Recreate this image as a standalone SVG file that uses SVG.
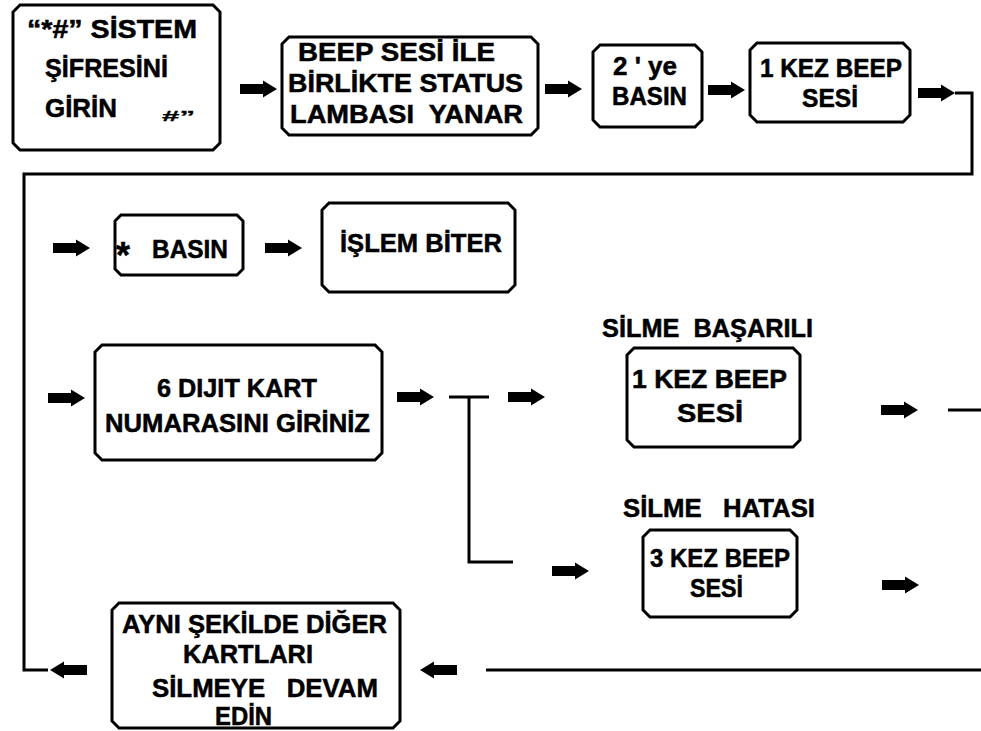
<svg xmlns="http://www.w3.org/2000/svg" xmlns:xlink="http://www.w3.org/1999/xlink" width="981" height="731" viewBox="0 0 981 731">
  <style>
    .box { fill: #fff; stroke: #000; stroke-width: 3; stroke-linejoin: miter; }
    .ln { fill: none; stroke: #000; stroke-width: 3; }
    .t { font-family: "Liberation Sans", Arial, sans-serif; font-weight: bold; font-size: 25px; fill: #000; stroke: #000; stroke-width: 0.5; white-space: pre; }
    .sm { font-size: 15px; stroke-width: 0.3; }
  </style>
  <defs>
    <!-- block arrow, tail at x=0, tip at x=37, centred on y=0 -->
    <path id="arr" d="M0,-5 H23 V-8.5 L37,0 L23,8.5 V5 H0 Z" fill="#000"/>
  </defs>
  <rect width="981" height="731" fill="#fff"/>

  <!-- connectors -->
  <g id="connectors">
    <polyline class="ln" points="955,93 972,93 972,174 24,174 24,670 48,670"/>
    <polyline class="ln" points="449,397 489,397"/>
    <polyline class="ln" points="469,397 469,562 513,562"/>
    <line class="ln" x1="948" y1="410" x2="981" y2="410"/>
    <line class="ln" x1="486" y1="670" x2="981" y2="670"/>
    <use xlink:href="#arr" transform="translate(240,89)"/>
    <use xlink:href="#arr" transform="translate(545,89)"/>
    <use xlink:href="#arr" transform="translate(708,90)"/>
    <use xlink:href="#arr" transform="translate(918,93)"/>
    <use xlink:href="#arr" transform="translate(53,248)"/>
    <use xlink:href="#arr" transform="translate(265,248)"/>
    <use xlink:href="#arr" transform="translate(48,398)"/>
    <use xlink:href="#arr" transform="translate(397,397)"/>
    <use xlink:href="#arr" transform="translate(508,397)"/>
    <use xlink:href="#arr" transform="translate(881,410)"/>
    <use xlink:href="#arr" transform="translate(552,571)"/>
    <use xlink:href="#arr" transform="translate(882,585)"/>
    <use xlink:href="#arr" transform="translate(457,670) scale(-1,1)"/>
    <use xlink:href="#arr" transform="translate(87,670) scale(-1,1)"/>
  </g>

  <g id="sifre">
    <path class="box" d="M20,5 H213 L220,12 V143 L213,150 H20 L13,143 V12 Z"/>
    <text class="t" x="27" y="38" textLength="170" lengthAdjust="spacingAndGlyphs">“*#” SİSTEM</text>
    <text class="t" x="45" y="77" textLength="123" lengthAdjust="spacingAndGlyphs">ŞİFRESİNİ</text>
    <text class="t" x="45" y="117" textLength="72" lengthAdjust="spacingAndGlyphs">GİRİN</text>
    <text class="t sm" x="162" y="121" textLength="33" lengthAdjust="spacingAndGlyphs">#”</text>
  </g>

  <g id="status">
    <path class="box" d="M289,37 H531 L538,44 V128 L531,135 H289 L282,128 V44 Z"/>
    <text class="t" x="298" y="61" textLength="197" lengthAdjust="spacingAndGlyphs">BEEP SESİ İLE</text>
    <text class="t" x="288" y="92" textLength="235" lengthAdjust="spacingAndGlyphs">BİRLİKTE STATUS</text>
    <text class="t" x="290" y="123" textLength="233" lengthAdjust="spacingAndGlyphs">LAMBASI  YANAR</text>
  </g>

  <g id="iki">
    <path class="box" d="M600,45 H695 L702,52 V120 L695,127 H600 L593,120 V52 Z"/>
    <text class="t" x="613" y="75" textLength="64" lengthAdjust="spacingAndGlyphs">2 ' ye</text>
    <text class="t" x="612" y="105" textLength="75" lengthAdjust="spacingAndGlyphs">BASIN</text>
  </g>

  <g id="beep1">
    <path class="box" d="M757,43 H903 L910,50 V115 L903,122 H757 L750,115 V50 Z"/>
    <text class="t" x="760" y="77" textLength="142" lengthAdjust="spacingAndGlyphs">1 KEZ BEEP</text>
    <text class="t" x="802" y="107" textLength="56" lengthAdjust="spacingAndGlyphs">SESİ</text>
  </g>

  <g id="yildiz">
    <path class="box" d="M121,215 H237 L243,221 V269 L237,275 H121 L115,269 V221 Z"/>
    <text class="t"><tspan x="116" y="268" font-size="36">*</tspan><tspan x="152" y="258" textLength="76" lengthAdjust="spacingAndGlyphs">BASIN</tspan></text>
  </g>

  <g id="bitis">
    <path class="box" d="M329,203 H508 L515,210 V285 L508,292 H329 L322,285 V210 Z"/>
    <text class="t" x="340" y="252" textLength="162" lengthAdjust="spacingAndGlyphs">İŞLEM BİTER</text>
  </g>

  <g id="kart">
    <path class="box" d="M102,345 H375 L382,352 V453 L375,460 H102 L95,453 V352 Z"/>
    <text class="t" x="157" y="397" textLength="160" lengthAdjust="spacingAndGlyphs">6 DIJIT KART</text>
    <text class="t" x="105" y="432" textLength="265" lengthAdjust="spacingAndGlyphs">NUMARASINI GİRİNİZ</text>
  </g>

  <g id="basarili">
    <text class="t" x="602" y="337" textLength="211" lengthAdjust="spacingAndGlyphs">SİLME  BAŞARILI</text>
    <path class="box" d="M634,348 H793 L800,355 V440 L793,447 H634 L627,440 V355 Z"/>
    <text class="t" x="632" y="388" textLength="155" lengthAdjust="spacingAndGlyphs">1 KEZ BEEP</text>
    <text class="t" x="677" y="422" textLength="66" lengthAdjust="spacingAndGlyphs">SESİ</text>
  </g>

  <g id="hata">
    <text class="t" x="623" y="517" textLength="192" lengthAdjust="spacingAndGlyphs">SİLME   HATASI</text>
    <path class="box" d="M650,530 H790 L797,537 V610 L790,617 H650 L643,610 V537 Z"/>
    <text class="t" x="650" y="567" textLength="140" lengthAdjust="spacingAndGlyphs">3 KEZ BEEP</text>
    <text class="t" x="690" y="597" textLength="53" lengthAdjust="spacingAndGlyphs">SESİ</text>
  </g>

  <g id="devam">
    <path class="box" d="M119,603 H393 L400,610 V721 L393,728 H119 L112,721 V610 Z"/>
    <text class="t" x="122" y="633" textLength="265" lengthAdjust="spacingAndGlyphs">AYNI ŞEKİLDE DİĞER</text>
    <text class="t" x="183" y="663" textLength="130" lengthAdjust="spacingAndGlyphs">KARTLARI</text>
    <text class="t" x="152" y="697" textLength="226" lengthAdjust="spacingAndGlyphs">SİLMEYE   DEVAM</text>
    <text class="t" x="215" y="725" textLength="57" lengthAdjust="spacingAndGlyphs">EDİN</text>
  </g>
</svg>
